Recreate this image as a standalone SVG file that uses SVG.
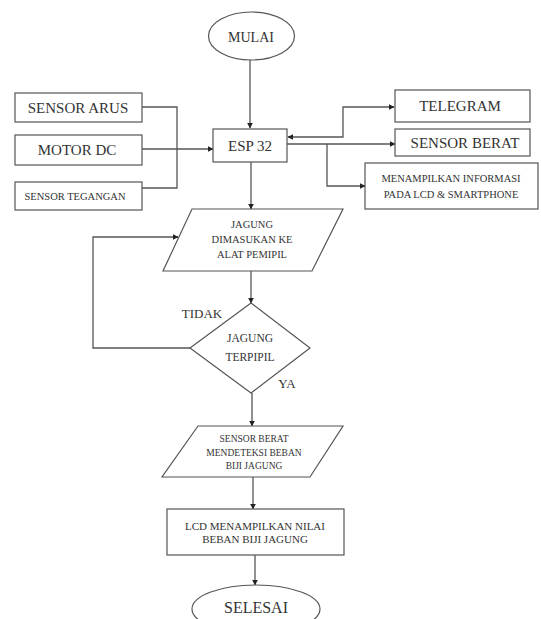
<svg xmlns="http://www.w3.org/2000/svg" width="541" height="619" viewBox="0 0 541 619">
<defs>
<style>
.s{fill:#fff;stroke:#555;stroke-width:1.2}
.c{fill:none;stroke:#555;stroke-width:1.3}
text{font-family:"Liberation Serif","Times New Roman",serif;fill:#333;text-anchor:middle;dominant-baseline:central}
</style>
<marker id="a" viewBox="0 0 10 10" refX="9" refY="5" markerWidth="6" markerHeight="6" orient="auto-start-reverse" markerUnits="userSpaceOnUse"><path d="M0,0 L10,5 L0,10 z" fill="#222"/></marker>
</defs>
<rect width="541" height="619" fill="#fff"/>
<g id="connectors">
<path class="c" d="M250,60 V128" marker-end="url(#a)"/>
<path class="c" d="M142,107 H177 V188 H142"/>
<path class="c" d="M142,149 H213" marker-end="url(#a)"/>
<path class="c" d="M288,137 H343 V107 H394" marker-start="url(#a)" marker-end="url(#a)"/>
<path class="c" d="M287,144 H395" marker-end="url(#a)"/>
<path class="c" d="M327,144 V186 H365" marker-end="url(#a)"/>
<path class="c" d="M251,162 V209" marker-end="url(#a)"/>
<path class="c" d="M251,271 V303" marker-end="url(#a)"/>
<path class="c" d="M190,348 H93 V237 H178" marker-end="url(#a)"/>
<path class="c" d="M252,393 V426" marker-end="url(#a)"/>
<path class="c" d="M253,477 V509" marker-end="url(#a)"/>
<path class="c" d="M255,555 V585" marker-end="url(#a)"/>
</g>
<g id="mulai"><ellipse class="s" cx="251.5" cy="36" rx="43" ry="24"/><text x="251" y="37" font-size="14">MULAI</text></g>
<g id="esp32"><rect class="s" x="213" y="129" width="74" height="33"/><text x="250" y="146" font-size="15">ESP 32</text></g>
<g id="sensor-arus"><rect class="s" x="15" y="93" width="127" height="29"/><text x="78" y="108" font-size="15">SENSOR ARUS</text></g>
<g id="motor-dc"><rect class="s" x="15" y="135" width="127" height="30"/><text x="77" y="150" font-size="15">MOTOR DC</text></g>
<g id="sensor-tegangan"><rect class="s" x="15" y="182" width="127" height="28"/><text x="75" y="196" font-size="10.5">SENSOR TEGANGAN</text></g>
<g id="telegram"><rect class="s" x="395" y="90" width="135" height="32"/><text x="460" y="106" font-size="15">TELEGRAM</text></g>
<g id="sensor-berat"><rect class="s" x="395" y="129" width="135" height="27"/><text x="465" y="143" font-size="15">SENSOR BERAT</text></g>
<g id="menampilkan"><rect class="s" x="365" y="163" width="173" height="46"/><text x="451" y="178" font-size="10.5">MENAMPILKAN INFORMASI</text><text x="451" y="194" font-size="10.5">PADA LCD &amp; SMARTPHONE</text></g>
<g id="jagung-dimasukan"><polygon class="s" points="192,209 343,209 312,271 163,271"/><text x="252" y="224" font-size="10.5">JAGUNG</text><text x="252" y="239" font-size="10.5">DIMASUKAN KE</text><text x="252" y="254" font-size="10.5">ALAT PEMIPIL</text></g>
<g id="jagung-terpipil"><polygon class="s" points="251,303 310,348 251,393 190,348"/><text x="250" y="338" font-size="11.5">JAGUNG</text><text x="250" y="357" font-size="11.5">TERPIPIL</text></g>
<text x="202" y="313" font-size="13">TIDAK</text>
<text x="287" y="383" font-size="13">YA</text>
<g id="sensor-berat-deteksi"><polygon class="s" points="198,426 343,426 310,477 162,477"/><text x="254" y="439" font-size="9.5">SENSOR BERAT</text><text x="254" y="453" font-size="9.5">MENDETEKSI BEBAN</text><text x="254" y="466" font-size="9.5">BIJI JAGUNG</text></g>
<g id="lcd"><rect class="s" x="167" y="509" width="177" height="46"/><text x="255" y="526" font-size="11">LCD MENAMPILKAN NILAI</text><text x="255" y="539" font-size="11">BEBAN BIJI JAGUNG</text></g>
<g id="selesai"><ellipse class="s" cx="256" cy="609" rx="64" ry="24"/><text x="256" y="607" font-size="16">SELESAI</text></g>
</svg>
